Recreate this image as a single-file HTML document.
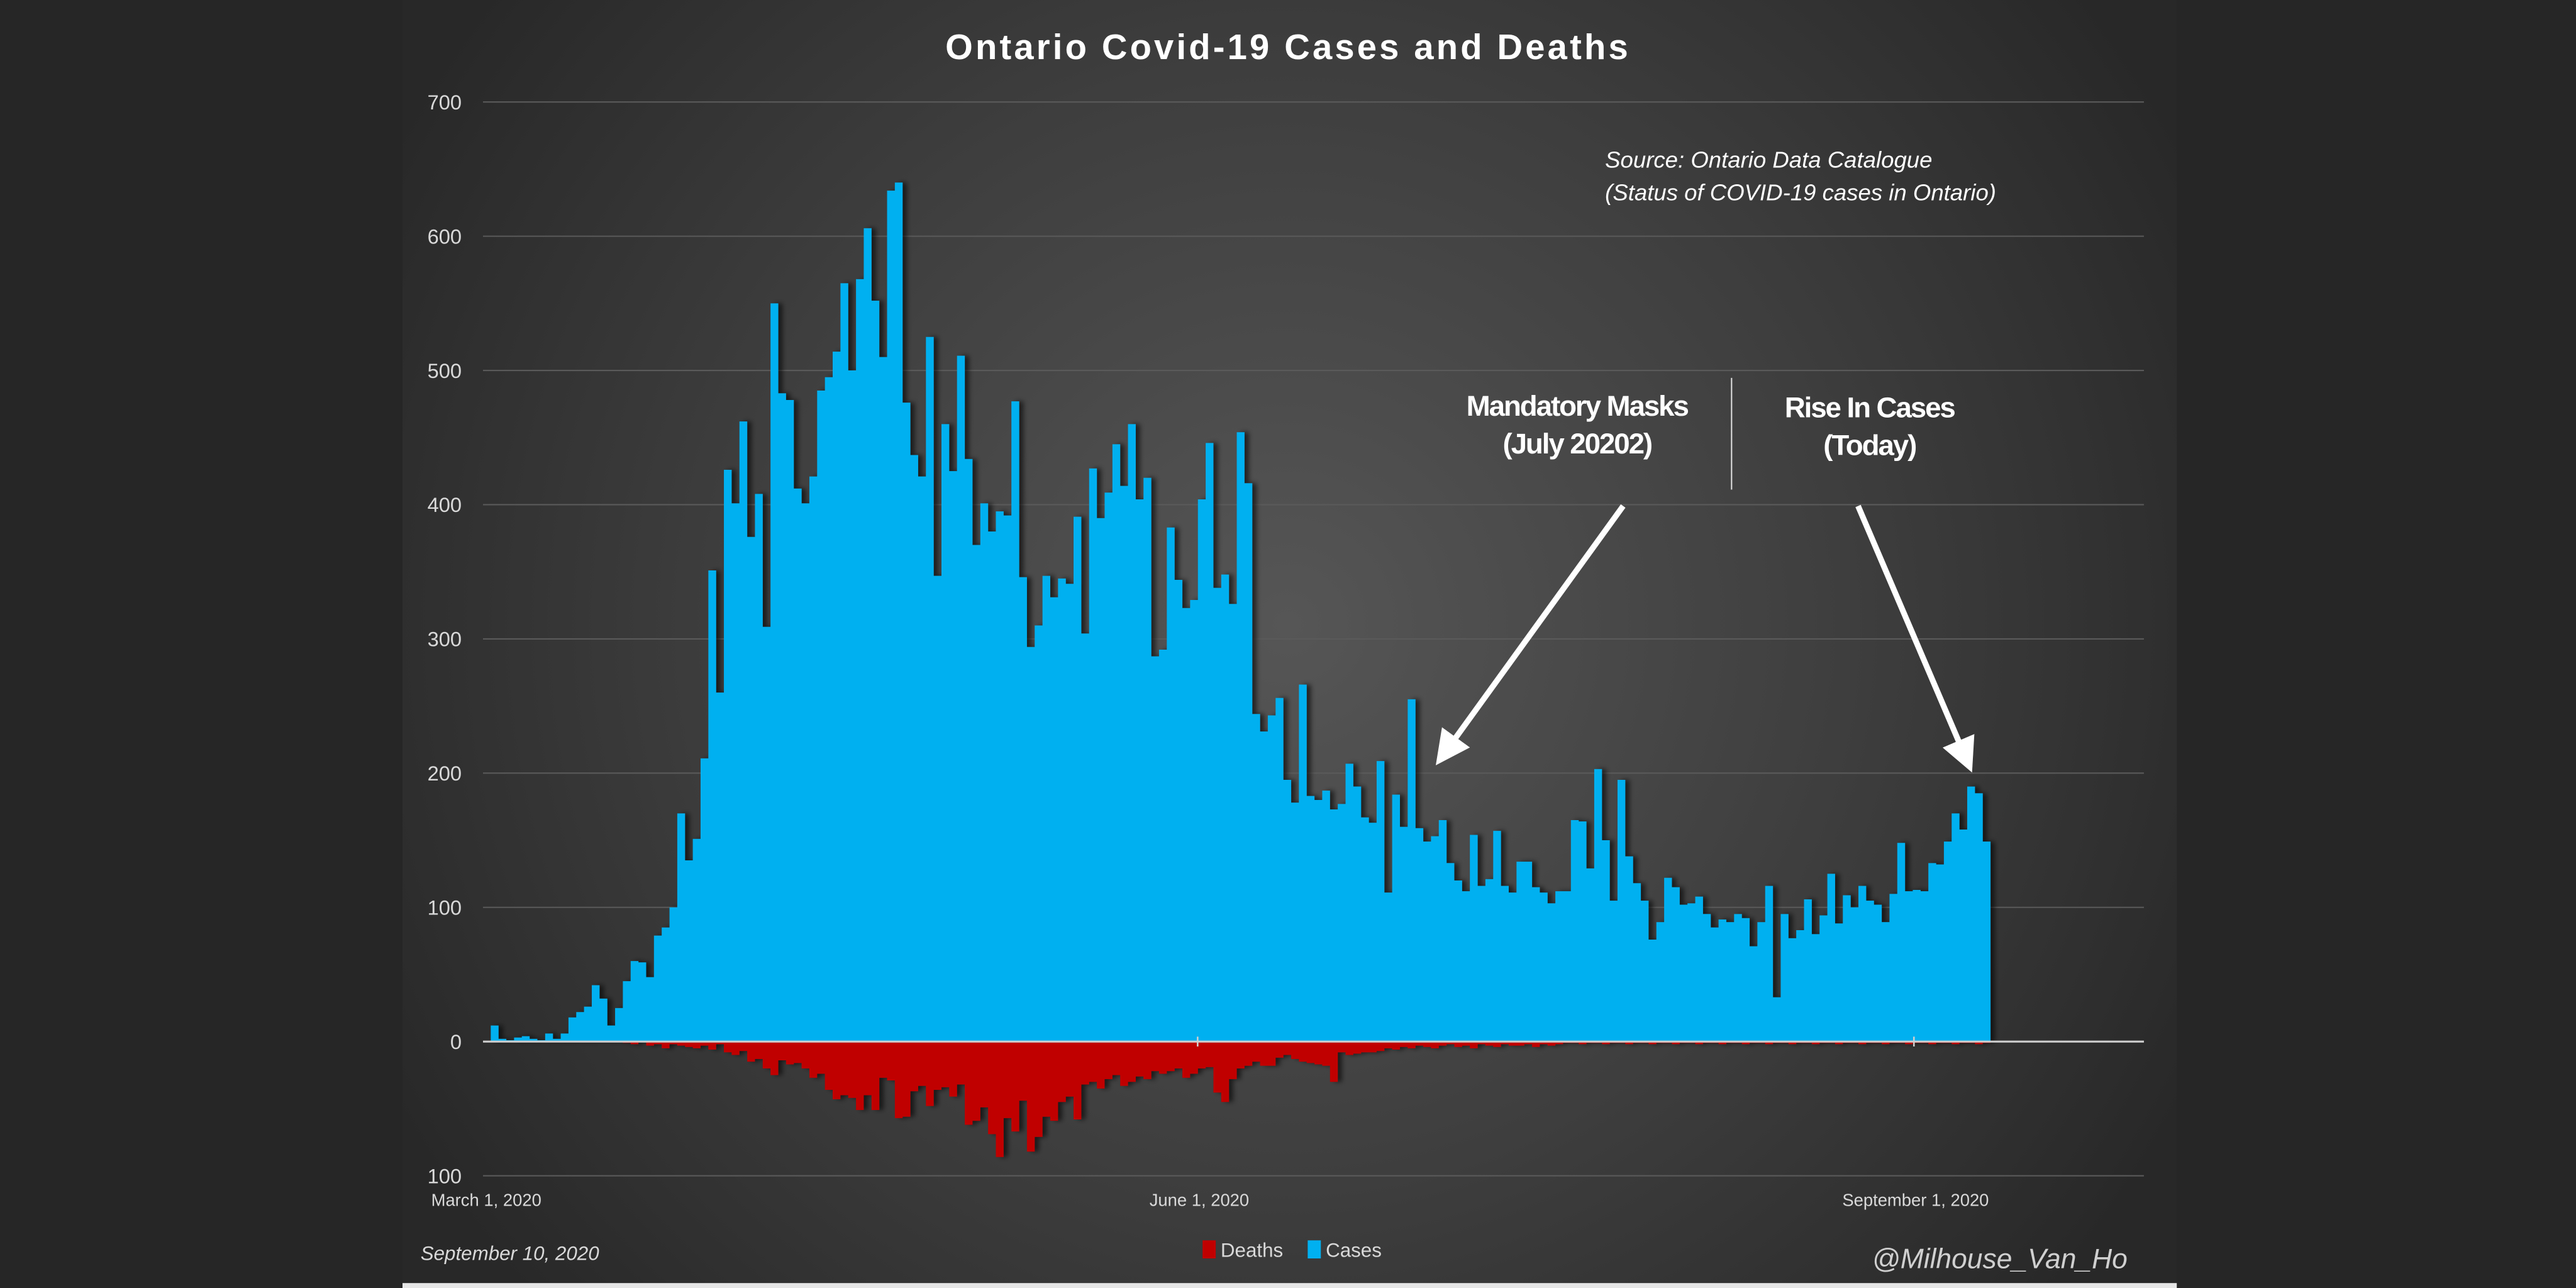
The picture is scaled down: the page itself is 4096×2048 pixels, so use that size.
<!DOCTYPE html>
<html><head><meta charset="utf-8"><style>
html,body{margin:0;padding:0;background:#262626;}
svg{display:block;}
</style></head><body>
<svg id="s" width="4096" height="2048" viewBox="0 0 1568 784" xmlns="http://www.w3.org/2000/svg" font-family="Liberation Sans, sans-serif">
<defs>
<radialGradient id="bg" cx="784" cy="380" r="620" gradientUnits="userSpaceOnUse">
<stop offset="0" stop-color="#565656"/><stop offset="0.55" stop-color="#3e3e3e"/><stop offset="1" stop-color="#282828"/>
</radialGradient>
<filter id="sh" x="-5%" y="-5%" width="110%" height="110%"><feDropShadow dx="2.5" dy="0" stdDeviation="1.5" flood-color="#000" flood-opacity="0.6"/></filter>
<marker id="ah" markerWidth="6" markerHeight="6" refX="5" refY="3" orient="auto" markerUnits="strokeWidth"><path d="M0,0 L6,3 L0,6 z" fill="#fff"/></marker>
</defs>
<rect x="0" y="0" width="1568" height="784" fill="#262626"/>
<rect x="245" y="0" width="1080" height="784" fill="url(#bg)"/>
<rect x="245" y="781" width="1080" height="3" fill="#e6e6e6"/>
<text x="784" y="36" text-anchor="middle" fill="#fff" font-size="21.5" font-weight="bold" letter-spacing="1.6">Ontario Covid-19 Cases and Deaths</text>
<g id="grid" stroke="#5a5a5a" stroke-width="0.8"></g>
<g id="ylab" fill="#d9d9d9" font-size="12.5" text-anchor="end"></g>
<g id="bars" filter="url(#sh)"></g>
<line x1="294" y1="634" x2="1305" y2="634" stroke="#cfcfcf" stroke-width="1.2"/>
<line x1="729" y1="631" x2="729" y2="637" stroke="#cfcfcf"/>
<line x1="1165" y1="631" x2="1165" y2="637" stroke="#cfcfcf"/>
<g fill="#d9d9d9" font-size="10.5" text-anchor="middle">
<text x="296" y="734">March 1, 2020</text>
<text x="730" y="734">June 1, 2020</text>
<text x="1166" y="734">September 1, 2020</text>
</g>
<g fill="#fff" font-size="14" font-style="italic">
<text x="977" y="102">Source: Ontario Data Catalogue</text>
<text x="977" y="122">(Status of COVID-19 cases in Ontario)</text>
</g>
<g fill="#fff" font-size="17.5" font-weight="bold" text-anchor="middle" letter-spacing="-0.8">
<text x="960" y="253">Mandatory Masks</text>
<text x="960" y="276">(July 20202)</text>
<text x="1138" y="254">Rise In Cases</text>
<text x="1138" y="277">(Today)</text>
</g>
<line x1="1054" y1="230" x2="1054" y2="298" stroke="#ddd" stroke-width="0.8"/>
<line x1="988" y1="308" x2="876" y2="463" stroke="#fff" stroke-width="3.5" marker-end="url(#ah)"/>
<line x1="1131" y1="308" x2="1199" y2="467" stroke="#fff" stroke-width="3.5" marker-end="url(#ah)"/>
<text x="256" y="767" fill="#d9d9d9" font-size="12" font-style="italic">September 10, 2020</text>
<rect x="732" y="755" width="8" height="11" fill="#c00000"/>
<text x="743" y="765" fill="#d9d9d9" font-size="12">Deaths</text>
<rect x="796" y="755" width="8" height="11" fill="#00b0f0"/>
<text x="807" y="765" fill="#d9d9d9" font-size="12">Cases</text>
<text x="1295" y="772" fill="#d0d0d0" font-size="17" font-style="italic" text-anchor="end">@Milhouse_Van_Ho</text>
</svg>
<script>
var NS="http://www.w3.org/2000/svg";
var c=[0,12,2,1,3,4,2,1,6,2,6,18,22,26,42,32,12,25,45,60,59,48,79,85,100,170,135,151,211,351,260,426,401,462,376,408,309,550,483,478,412,401,421,485,495,514,565,500,568,606,552,510,634,640,476,437,421,525,347,460,425,511,434,370,401,380,395,392,477,346,294,310,347,331,345,341,391,304,427,390,409,445,414,460,404,420,287,292,383,344,323,329,404,446,338,348,326,454,416,244,231,243,256,195,178,266,183,180,187,173,177,207,190,167,163,209,111,184,160,255,159,149,153,165,133,120,112,154,116,121,157,116,111,134,134,115,111,103,112,112,165,164,129,203,150,105,195,138,118,105,76,89,122,115,102,103,108,95,85,91,89,95,92,71,89,116,33,95,77,83,106,80,94,125,88,109,100,116,105,102,89,110,148,112,113,112,133,132,149,170,158,190,185,149];
var d=[];for(var i=0;i<18;i++)d.push(0);
d=d.concat([1,2,0,3,2,5,2,3,4,5,3,6,2,8,10,7,15,13,20,25,14,17,16,20,27,24,36,43,40,42,51,40,51,27,29,57,56,37,33,48,36,34,41,32,62,59,49,69,86,57,67,44,82,71,56,59,45,41,58,32,30,35,28,25,33,30,26,28,22,24,22,20,27,24,20,19,38,45,28,20,18,15,18,18,12,10,13,15,16,17,18,30,8,10,9,8,8,7,5,6,4,5,3,4,5,3,2,4,3,5,2,3,4,2,3,3,2,4,2,3,2,1]);
while(d.length<c.length)d.push(d.length%3==0?2:1);
var x0=294,dx=4.73,y0=634,k=81.7/100;
function step(arr,sign){var p="M"+x0+","+y0;for(var i=0;i<arr.length;i++){var y=y0-sign*arr[i]*k;p+=" L"+(x0+i*dx).toFixed(2)+","+y.toFixed(2)+" L"+(x0+(i+1)*dx).toFixed(2)+","+y.toFixed(2);}p+=" L"+(x0+arr.length*dx).toFixed(2)+","+y0+" Z";return p;}
var g=document.getElementById("bars");
var p1=document.createElementNS(NS,"path");p1.setAttribute("d",step(c,1));p1.setAttribute("fill","#00b0f0");g.appendChild(p1);
var p2=document.createElementNS(NS,"path");p2.setAttribute("d",step(d,-1));p2.setAttribute("fill","#c00000");g.appendChild(p2);
var gr=document.getElementById("grid"),yl=document.getElementById("ylab");
var vals=[700,600,500,400,300,200,100,0,-100];
vals.forEach(function(v){var y=y0-v*k;if(v!=0){var l=document.createElementNS(NS,"line");l.setAttribute("x1",294);l.setAttribute("x2",1305);l.setAttribute("y1",y);l.setAttribute("y2",y);gr.appendChild(l);}
var t=document.createElementNS(NS,"text");t.setAttribute("x",281);t.setAttribute("y",y+4.5);t.textContent=Math.abs(v);yl.appendChild(t);});
</script>
</body></html>
